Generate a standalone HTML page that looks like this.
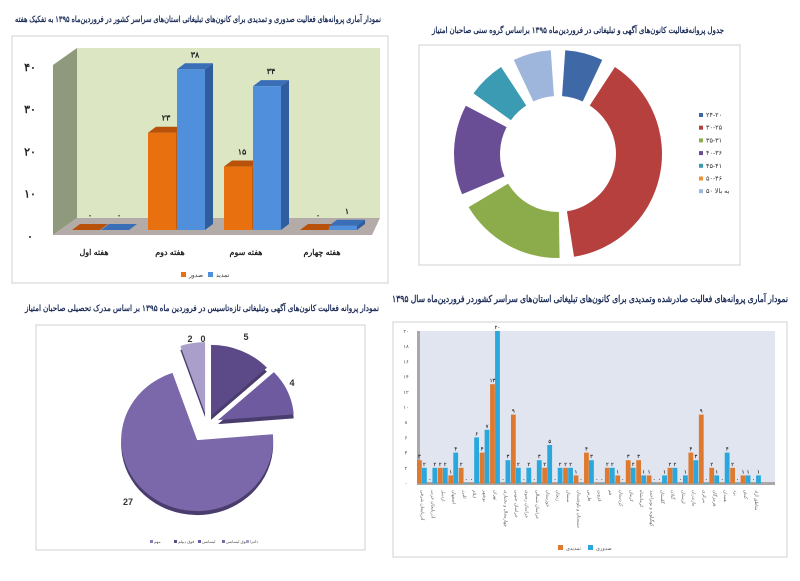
<!DOCTYPE html>
<html><head><meta charset="utf-8">
<style>
html,body{margin:0;padding:0;background:#fff;}
svg{display:block;font-family:"Liberation Sans","Noto Sans CJK SC",sans-serif;}
.ttl{font-weight:bold;fill:#1f2f5a;}
</style></head>
<body>
<svg id="s" width="800" height="581" viewBox="0 0 800 581" xmlns="http://www.w3.org/2000/svg">
<rect width="800" height="581" fill="#fff"/>
<g id="c1">
<text class="ttl" x="198" y="22" font-size="8.5" text-anchor="middle" direction="rtl" textLength="366" lengthAdjust="spacingAndGlyphs">نمودار آماری پروانه‌های فعالیت صدوری و تمدیدی برای کانون‌های تبلیغاتی استان‌های سراسر کشور در فروردین‌ماه ۱۳۹۵ به تفکیک هفته</text>
<rect x="12" y="36" width="376" height="247" fill="#fff" stroke="#d0d0d0"/>
<polygon points="77,48 380,48 380,218 77,218" fill="#dce6c3"/>
<polygon points="53,65 77,48 77,218 53,235" fill="#8f9a7c"/>
<polygon points="53,235 77,218 380,218 372,235" fill="#b2aba8"/>
</g>
<g id="c2">
<text class="ttl" x="578" y="33" font-size="8.5" text-anchor="middle" direction="rtl" textLength="292" lengthAdjust="spacingAndGlyphs">جدول پروانه‌فعالیت کانون‌های آگهی و تبلیغاتی در فروردین‌ماه ۱۳۹۵ براساس گروه سنی صاحبان امتیاز</text>
<rect x="419" y="45" width="321" height="220" fill="#fff" stroke="#d0d0d0"/>
</g>
<g id="c3">
<text class="ttl" x="590" y="302" font-size="9.5" text-anchor="middle" direction="rtl" textLength="396" lengthAdjust="spacingAndGlyphs">نمودار آماری پروانه‌های فعالیت صادرشده وتمدیدی برای کانون‌های تبلیغاتی استان‌های سراسر کشوردر فروردین‌ماه سال ۱۳۹۵</text>
<rect x="393" y="322" width="394" height="235" fill="#fff" stroke="#d0d0d0"/>
<rect x="419" y="331" width="356" height="152" fill="#e1e5ef"/>
<rect x="417" y="331" width="3" height="153" fill="#a8a8a8"/>
<rect x="417" y="482" width="358" height="3" fill="#a8a8a8"/>
</g>
<g id="c4">
<text class="ttl" x="202" y="311" font-size="8.5" text-anchor="middle" direction="rtl" textLength="354" lengthAdjust="spacingAndGlyphs">نمودار پروانه فعالیت کانون‌های آگهی وتبلیغاتی تازه‌تاسیس در فروردین ماه ۱۳۹۵ بر اساس مدرک تحصیلی صاحبان امتیاز</text>
<rect x="36" y="325" width="329" height="225" fill="#fff" stroke="#d0d0d0"/>
</g>
</svg>
<script>
const weekCats = ['هفته اول','هفته دوم','هفته سوم','هفته چهارم'];
const weekIssued = [0,23,15,0];
const weekRenewed = [0,38,34,1];
const weekTicks = [0,10,20,30,40];

const ageCats = ['۲۴-۲۰','۳۰-۲۵','۳۵-۳۱','۴۰-۳۶','۴۵-۴۱','۵۰-۴۶','۵۰ به بالا'];
const ageValues = [3,15,7,6,3,0,3];

const provCats = ['آذربایجان شرقی','آذربایجان غربی','اردبیل','اصفهان','البرز','ایلام','بوشهر','تهران','چهارمحال و بختیاری','خراسان جنوبی','خراسان رضوی','خراسان شمالی','خوزستان','زنجان','سمنان','سیستان و بلوچستان','فارس','قزوین','قم','کردستان','کرمان','کرمانشاه','کهگیلویه و بویراحمد','گلستان','گیلان','لرستان','مازندران','مرکزی','هرمزگان','همدان','یزد','کیش','مناطق آزاد'];
const provRenewed = [3,0,2,1,2,0,4,13,0,9,0,0,2,0,2,1,4,0,2,1,3,3,1,0,2,0,4,9,2,0,2,1,0];
const provIssued  = [2,2,2,4,0,6,7,20,3,2,2,3,5,2,2,0,3,0,2,0,2,1,0,1,2,1,3,0,1,4,0,1,1];
const provTicks = [0,2,4,6,8,10,12,14,16,18,20];

const eduCats = ['مهم','فوق دیپلم','لیسانس','فوق لیسانس','دکترا'];
const eduValues = [0,5,4,27,2];
const eduLabels = ['0','5','4','27','2'];

const NS='http://www.w3.org/2000/svg';
const fa = n => String(n).replace(/\d/g,d=>'۰۱۲۳۴۵۶۷۸۹'[d]);
function mk(parent,tag,attrs){const e=document.createElementNS(NS,tag);for(const k in attrs)e.setAttribute(k,attrs[k]);parent.appendChild(e);return e;}
function txt(parent,x,y,s,size,fill,anchor,extra){const t=mk(parent,'text',Object.assign({x:x,y:y,'font-size':size,fill:fill,'text-anchor':anchor||'middle'},extra||{}));t.textContent=s;return t;}

(function(){
const g=document.getElementById('c1');
const base=230, sc=4.23, d=8, dy=6, w=28;
const yS=v=>base-v*sc;
const xS=i=>72+i*76;
weekTicks.forEach(v=>{
  const t=txt(g,30,yS(v)+10,fa(v),11,'#222','middle',{'font-weight':'bold'});
  
  
});
function bar(x,v,front,top,side,name){
  const y=yS(v);
  const b=mk(g,'g',{});
  
  
  mk(b,'rect',{x:x,y:y,width:w,height:base-y,fill:front});
  mk(b,'polygon',{points:`${x},${y} ${x+d},${y-dy} ${x+w+d},${y-dy} ${x+w},${y}`,fill:top});
  mk(b,'polygon',{points:`${x+w},${y} ${x+w+d},${y-dy} ${x+w+d},${base-dy} ${x+w},${base}`,fill:side});
  const t=txt(g,x+w/2+4,y-12,fa(v),8,'#222','middle',{'font-weight':'bold'});
  
  
}
weekCats.forEach((c,i)=>{
  bar(xS(i),weekIssued[i],'#e8700e','#b8520a','#c05a0c','bar-issued-'+i);
  bar(xS(i)+29,weekRenewed[i],'#4f8fdc','#3a6fb8','#2f5d9e','bar-renewed-'+i);
  const t=txt(g,xS(i)+22,255,c,8,'#222','middle',{'font-weight':'bold'});
  
  
});
const lg=mk(g,'g',{});


mk(lg,'rect',{x:181,y:272,width:5,height:5,fill:'#e8700e'});
txt(lg,189,277,'صدور',6,'#333','start');
mk(lg,'rect',{x:208,y:272,width:5,height:5,fill:'#4f8fdc'});
txt(lg,216,277,'تمدید',6,'#333','start');
})();

(function(){
const g=document.getElementById('c2');
const cx=558, cy=154, ro=104, ri=58, pad=4;
const colors=['#3f68a6','#b5403e','#8cac4c','#6a4e95','#3b9bb2','#ec9236','#9fb6dc'];
const total=ageValues.reduce((a,b)=>a+b,0);
const pt=(a,r)=>[cx+r*Math.sin(a*Math.PI/180),cy-r*Math.cos(a*Math.PI/180)];
let acc=0;
ageValues.forEach((v,i)=>{
  const a0=acc/total*360, a1=(acc+v)/total*360; acc+=v;
  if(v>0){
    const s=a0+pad, e=a1-pad, large=(e-s)>180?1:0;
    const p1=pt(s,ro),p2=pt(e,ro),p3=pt(e,ri),p4=pt(s,ri);
    const p=mk(g,'path',{d:`M${p1} A${ro},${ro} 0 ${large} 1 ${p2} L${p3} A${ri},${ri} 0 ${large} 0 ${p4} Z`,fill:colors[i]});
    
    
  }
  const ly=117+i*12.7;
  const sq=mk(g,'rect',{x:699,y:ly-4,width:4,height:4,fill:colors[i]});
  
  
  const t=txt(g,706,ly,ageCats[i],6.5,'#333','start');
  
  
});
})();

(function(){
const g=document.getElementById('c3');
const base=483, sc=7.6;
const yS=v=>base-v*sc;
const xS=i=>417+i*10.44;
provTicks.forEach(v=>{
  const t=txt(g,406,yS(v)+2,fa(v),5,'#444','middle');
  
  
});
provCats.forEach((c,i)=>{
  const x=xS(i);
  const r=mk(g,'rect',{x:x,y:yS(provRenewed[i]),width:4.8,height:provRenewed[i]*sc+0.5,fill:'#de7a30'});
  
  
  const b=mk(g,'rect',{x:x+5,y:yS(provIssued[i]),width:4.8,height:provIssued[i]*sc+0.5,fill:'#2aa7dc'});
  
  
  const t1=txt(g,x+2.4,yS(provRenewed[i])-2,fa(provRenewed[i]),5,'#333','middle',{'font-weight':'bold'});
  
  
  const t2=txt(g,x+7.4,yS(provIssued[i])-2,fa(provIssued[i]),5,'#333','middle',{'font-weight':'bold'});
  
  
  const lx=x+4, ly=490;
  const lt=txt(g,lx,ly,c,4.5,'#666','start',{transform:`rotate(90 ${lx} ${ly})`});
  
  
});
const lg=mk(g,'g',{});


mk(lg,'rect',{x:558,y:545,width:5,height:5,fill:'#de7a30'});
txt(lg,566,550,'تمدیدی',5,'#555','start');
mk(lg,'rect',{x:588,y:545,width:5,height:5,fill:'#2aa7dc'});
txt(lg,596,550,'صدوری',5,'#555','start');
})();

(function(){
const g=document.getElementById('c4');
const cx=207, cy=425, rx=76, ry=71;
const explode=[0,10,12,18,12];
const colors=['#8a7ab8','#5b4a87','#6d5a9f','#7a68aa','#aa9fcb'];
const labelPos=[[203,342],[246,340],[292,386],[128,505],[190,342]];
const total=eduValues.reduce((a,b)=>a+b,0);
let acc=0;
eduValues.forEach((v,i)=>{
  const a0=acc/total*360, a1=(acc+v)/total*360; acc+=v;
  const mid=(a0+a1)/2*Math.PI/180;
  const ox=cx+explode[i]*Math.sin(mid), oy=cy-explode[i]*Math.cos(mid);
  if(v>0){
    const P=a=>[ox+rx*Math.sin(a*Math.PI/180),oy-ry*Math.cos(a*Math.PI/180)];
    const large=(a1-a0)>180?1:0;
    const rim=mk(g,'path',{d:`M${ox},${oy+4} L${P(a0)[0]},${P(a0)[1]+4} A${rx},${ry} 0 ${large} 1 ${P(a1)[0]},${P(a1)[1]+4} Z`,fill:'#4a3d6e'});
    
    
    const p=mk(g,'path',{d:`M${ox},${oy} L${P(a0)} A${rx},${ry} 0 ${large} 1 ${P(a1)} Z`,fill:colors[i]});
    
    
  }
  const t=txt(g,labelPos[i][0],labelPos[i][1],eduLabels[i],9,'#333','middle',{'font-weight':'bold'});
  
  
});
const lg=mk(g,'g',{});


eduCats.forEach((c,i)=>{
  const x=150+i*24;
  mk(lg,'rect',{x:x,y:540,width:3,height:3,fill:colors[i]});
  txt(lg,x+4,543,c,4,'#555','start');
});
})();
</script>
</body></html>
